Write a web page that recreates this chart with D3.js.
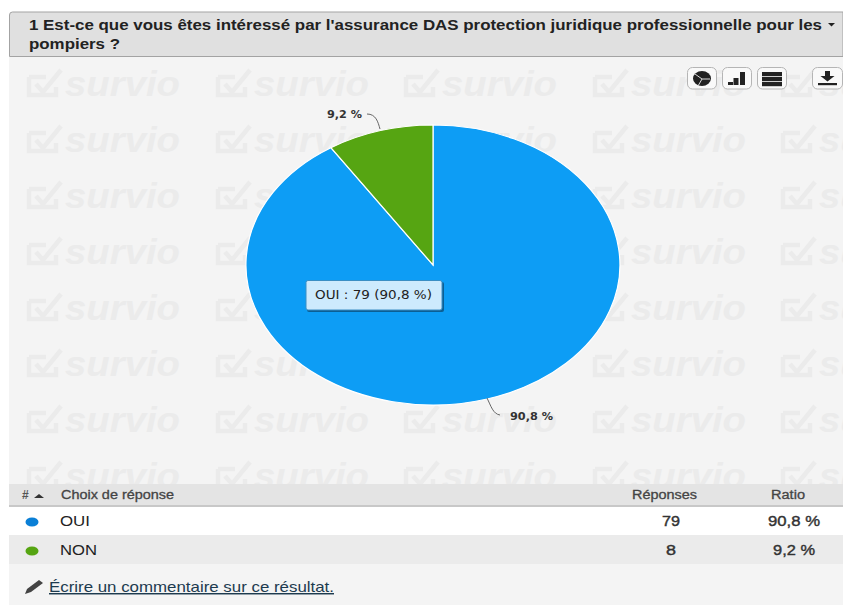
<!DOCTYPE html>
<html>
<head>
<meta charset="utf-8">
<script src="https://cdn.jsdelivr.net/npm/d3@7"></script>
<style>
  html, body { margin: 0; padding: 0; background: #fff; overflow: hidden; }
  text { font-family: "Liberation Sans", Arial, sans-serif; }
</style>
</head>
<body>
<svg id="chart" width="843" height="605"></svg>
<script>
const categories = ["OUI", "NON"];
const responses = [79, 8];
const ratioLabels = ["90,8 %", "9,2 %"];
const colors = ["#0d9df5", "#56a512"];
const dotColors = ["#0a7fd6", "#56a512"];
const titleLines = [
  "1 Est-ce que vous êtes intéressé par l'assurance DAS protection juridique professionnelle pour les",
  "pompiers ?",
];
const titleWidths = [793, 91];
const headers = ["Choix de réponse", "Réponses", "Ratio"];
const tooltipText = "OUI : 79 (90,8 %)";
const commentText = "Écrire un commentaire sur ce résultat.";
const watermarkX = [28, 217, 405, 594, 782];
const watermarkY = [85, 141, 197, 253, 309, 365, 421, 477];

const svg = d3.select("#chart");

// the reference is stretched sideways, so long texts get a fixed width
function stretched(x, y, width, size, str) {
  return svg.append("text")
    .attr("x", x).attr("y", y)
    .attr("font-size", size)
    .attr("textLength", width).attr("lengthAdjust", "spacingAndGlyphs")
    .text(str);
}

// panel + title bar
svg.append("rect").attr("x", 9).attr("y", 56).attr("width", 834).attr("height", 549).attr("fill", "#f4f4f4");
svg.append("path")
  .attr("d", "M9.5,56.5V15a3,3 0 0 1 3,-3H843V56.5H9.5Z")
  .attr("fill", "#e0e0e0").attr("stroke", "#a3a3a3");

titleLines.forEach((line, i) => {
  stretched(29, 30 + i * 19, titleWidths[i], 15, line)
    .attr("font-weight", "bold").attr("fill", "#222");
});
svg.append("path").attr("d", "M828,23h7l-3.5,3.5z").attr("fill", "#222");

// watermark
const clip = svg.append("clipPath").attr("id", "wm");
clip.append("rect").attr("x", 9).attr("y", 57).attr("width", 834).attr("height", 427);
const wm = svg.append("g").attr("clip-path", "url(#wm)");
watermarkY.forEach((y) => {
  watermarkX.forEach((x) => {
    const g = wm.append("g").attr("transform", `translate(${x},${y})`);
    g.append("path")
      .attr("d", "M1,-8H18M1,-8V10H28V2M8,-1L15,7L33,-15")
      .attr("fill", "none").attr("stroke", "#ebebeb").attr("stroke-width", 4.5);
    g.append("text")
      .attr("x", 37).attr("y", 11)
      .attr("font-size", 35).attr("font-weight", "bold").attr("font-style", "italic")
      .attr("textLength", 115).attr("lengthAdjust", "spacingAndGlyphs")
      .attr("fill", "#ebebeb")
      .text("survio");
  });
});

// toolbar buttons
const buttons = svg.append("g");
[[687, 30], [722, 30], [757, 30], [812, 31]].forEach(([x, w]) => {
  buttons.append("rect").attr("x", x + 0.5).attr("y", 67.5).attr("width", w - 1).attr("height", 21.5).attr("rx", 5)
    .attr("fill", "#f9f9f9").attr("stroke", "#b5b5b5");
});
buttons.append("ellipse").attr("cx", 702).attr("cy", 78.5).attr("rx", 9).attr("ry", 7.5).attr("fill", "#222");
buttons.append("path").attr("d", "M702,79L695,74M702,79L710,79M702,79L698,86").attr("stroke", "#ddd").attr("stroke-width", 1);
[[728, 3], [733.5, 7], [740, 13]].forEach(([x, h]) => {
  buttons.append("rect").attr("x", x).attr("y", 85 - h).attr("width", 5).attr("height", h).attr("fill", "#222");
});
[72, 77, 82].forEach((y) => {
  buttons.append("rect").attr("x", 762).attr("y", y).attr("width", 20).attr("height", 4.2).attr("fill", "#222");
});
buttons.append("path").attr("d", "M825,71v5h-4.5l7,5.5l7,-5.5h-4.5v-5z").attr("fill", "#222");
buttons.append("rect").attr("x", 818).attr("y", 83).attr("width", 19).attr("height", 2.2).attr("fill", "#222");

// pie, drawn on a unit radius and stretched: the picture is wider than high
const pie = d3.pie().sort(null)(responses);
const arc = d3.arc().innerRadius(0).outerRadius(1);
svg.append("g")
  .attr("transform", "translate(433,265) scale(187,140)")
  .selectAll("path")
  .data(pie)
  .enter()
  .append("path")
  .attr("d", arc)
  .attr("fill", (d, i) => colors[i])
  .attr("stroke", "#fff")
  .attr("stroke-width", 1.2)
  .attr("vector-effect", "non-scaling-stroke");

// slice labels
const leaders = ["M487,398C491,406 493,414 500,415", "M380,129C378,122 376,114 367,114"];
leaders.forEach((d) => {
  svg.append("path").attr("d", d).attr("fill", "none").attr("stroke", "#666").attr("stroke-width", 1);
});
const labelPos = [[510, 420], [327, 118]];
const labelWidths = [43, 35];
ratioLabels.forEach((label, i) => {
  stretched(labelPos[i][0], labelPos[i][1], labelWidths[i], 10.5, label)
    .style("font-family", "DejaVu Sans")
    .attr("font-weight", "bold").attr("fill", "#333");
});

// tooltip
svg.append("rect").attr("x", 307).attr("y", 282).attr("width", 137).attr("height", 30).attr("rx", 2).attr("fill", "#0b5f94");
svg.append("rect").attr("x", 306).attr("y", 280.5).attr("width", 136).attr("height", 29.5).attr("rx", 2)
  .attr("fill", "#cdeafd").attr("stroke", "#3a8ec4").attr("stroke-width", 1);
stretched(315, 298.5, 117, 11.5, tooltipText)
  .style("font-family", "DejaVu Sans").attr("fill", "#222");

// table
svg.append("rect").attr("x", 9).attr("y", 484).attr("width", 834).attr("height", 22).attr("fill", "#e4e4e4");
svg.append("rect").attr("x", 9).attr("y", 505).attr("width", 834).attr("height", 2).attr("fill", "#c8c8c8");
svg.append("rect").attr("x", 9).attr("y", 507).attr("width", 834).attr("height", 28).attr("fill", "#fff");
svg.append("rect").attr("x", 9).attr("y", 535).attr("width", 834).attr("height", 29).attr("fill", "#ebebeb");

svg.append("text").attr("x", 22).attr("y", 499).attr("font-size", 12).attr("font-weight", "bold").attr("fill", "#555").text("#");
svg.append("path").attr("d", "M34,498l5,-4l5,4z").attr("fill", "#333");
const headerSpots = [[61, 113], [632, 65], [771, 34]];
headers.forEach((h, i) => {
  stretched(headerSpots[i][0], 499, headerSpots[i][1], 12.5, h)
    .attr("fill", "#444").attr("stroke", "#444").attr("stroke-width", 0.3);
});

const nameWidths = [30, 37];
const countSpots = [[662, 18], [666, 10]];
const ratioSpots = [[768, 52], [773, 42]];
categories.forEach((name, i) => {
  const y = 526 + i * 29;
  svg.append("ellipse").attr("cx", 32).attr("cy", y - 4).attr("rx", 6.5).attr("ry", 4.5).attr("fill", dotColors[i]);
  stretched(60, y, nameWidths[i], 14.5, name).attr("fill", "#222");
  stretched(countSpots[i][0], y, countSpots[i][1], 14.5, responses[i])
    .attr("fill", "#333").attr("stroke", "#333").attr("stroke-width", 0.4);
  stretched(ratioSpots[i][0], y, ratioSpots[i][1], 14.5, ratioLabels[i])
    .attr("fill", "#333").attr("stroke", "#333").attr("stroke-width", 0.4);
});

// comment link
svg.append("path").attr("d", "M25,594l2,-5l12,-9l4,3l-12,9z").attr("fill", "#444");
stretched(49, 592, 285, 14.5, commentText)
  .attr("fill", "#1d3b4f")
  .attr("text-decoration", "underline");
</script>
</body>
</html>
